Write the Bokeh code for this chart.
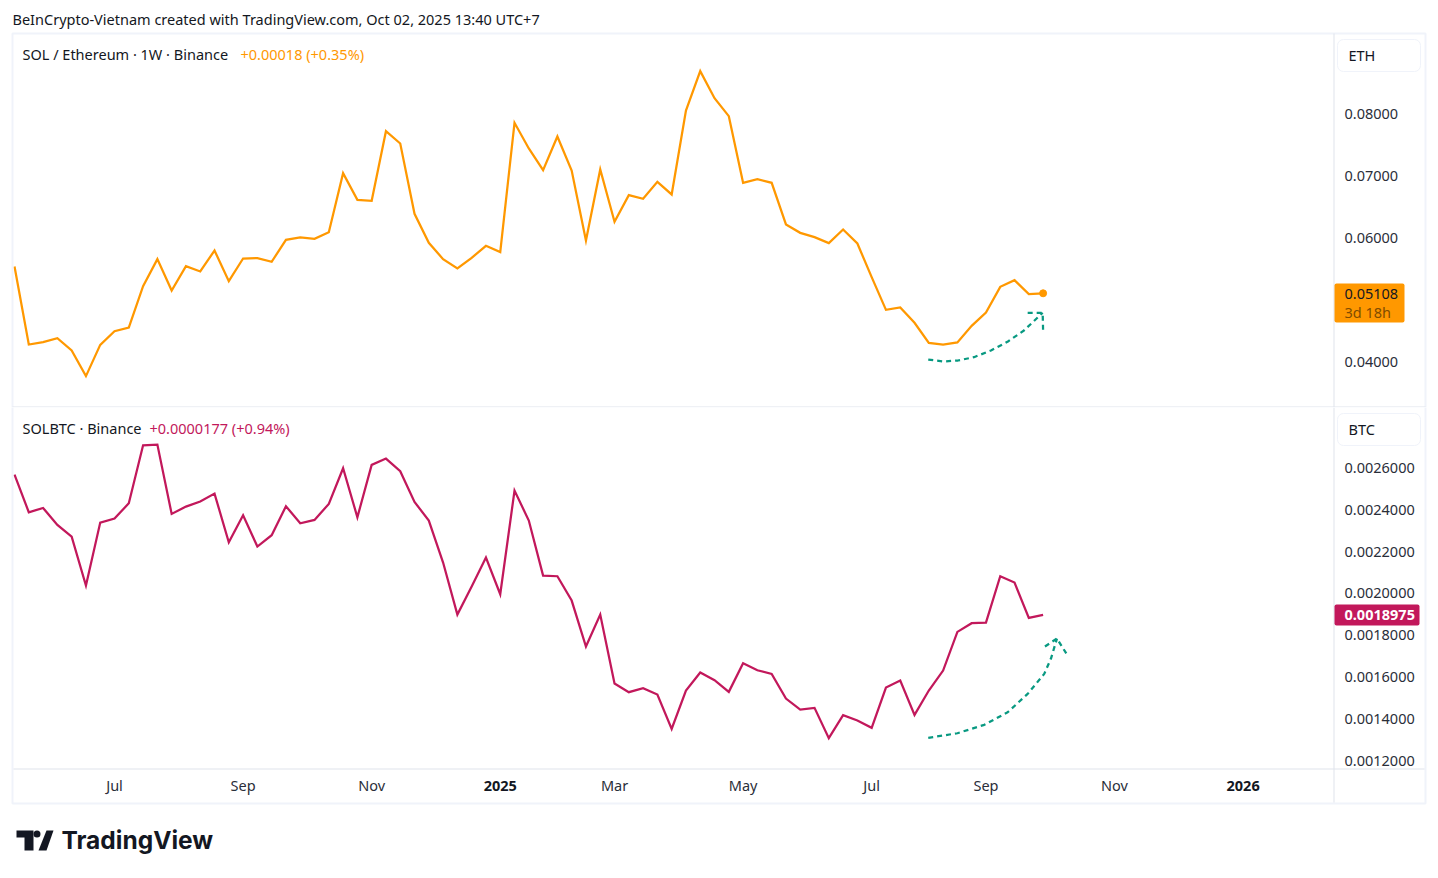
from datetime import datetime

import pandas as pd
from bokeh.embed import file_html
from bokeh.layouts import column
from bokeh.models import BoxAnnotation, FixedTicker, Label, PolyAnnotation, Range1d
from bokeh.plotting import figure
from bokeh.resources import INLINE

weeks = pd.date_range("2024-05-13", periods=73, freq="7D")

sol_eth = [
    0.05540, 0.04282, 0.04320, 0.04384, 0.04186, 0.03772, 0.04277, 0.04497, 0.04556, 0.05223,
    0.05659, 0.05153, 0.05546, 0.05460, 0.05798, 0.05304, 0.05669, 0.05675, 0.05616, 0.05970,
    0.06008, 0.05987, 0.06094, 0.07046, 0.06616, 0.06600, 0.07723, 0.07524, 0.06390, 0.05922,
    0.05659, 0.05508, 0.05680, 0.05874, 0.05772, 0.07858, 0.07444, 0.07094, 0.07637, 0.07089,
    0.05960, 0.07105, 0.06261, 0.06691, 0.06632, 0.06906, 0.06702, 0.08056, 0.08691, 0.08255,
    0.07965, 0.06890, 0.06949, 0.06890, 0.06218, 0.06083, 0.06013, 0.05917, 0.06137, 0.05911,
    0.05368, 0.04841, 0.04879, 0.04632, 0.04309, 0.04282, 0.04315, 0.04583, 0.04798, 0.05212,
    0.05320, 0.05094, 0.05108,
]
sol_btc = [
    0.0025684, 0.0023882, 0.0024089, 0.0023276, 0.0022718, 0.0020373, 0.0023388, 0.0023579,
    0.0024313, 0.0027088, 0.0027120, 0.0023802, 0.0024153, 0.0024392, 0.0024775, 0.0022447,
    0.0023738, 0.0022239, 0.0022782, 0.0024169, 0.0023356, 0.0023515, 0.0024281, 0.0025987,
    0.0023643, 0.0026147, 0.0026450, 0.0025844, 0.0024376, 0.0023483, 0.0021474, 0.0018986,
    0.0020325, 0.0021713, 0.0019959, 0.0024919, 0.0023483, 0.0020852, 0.0020820, 0.0019656,
    0.0017455, 0.0018986, 0.0015684, 0.0015270, 0.0015461, 0.0015158, 0.0013515, 0.0015349,
    0.0016211, 0.0015844, 0.0015286, 0.0016657, 0.0016322, 0.0016147, 0.0014967, 0.0014440,
    0.0014520, 0.0013069, 0.0014169, 0.0013914, 0.0013563, 0.0015493, 0.0015828, 0.0014185,
    0.0015349, 0.0016306, 0.0018156, 0.0018571, 0.0018603, 0.0020820, 0.0020517, 0.0018826,
    0.0018975,
]

# hand drawn arrows, x in weeks after the first bar
eth_arrow_wk = [63.96, 65.06, 66.04, 67.16, 68.35, 69.54, 70.66, 71.97]
eth_arrow_val = [0.04040, 0.04008, 0.04024, 0.04077, 0.04185, 0.04331, 0.04508, 0.04794]
eth_head_wk = [70.92, 71.97, 72.0]
eth_head_val = [0.04794, 0.04794, 0.04497]
btc_arrow_wk = [63.96, 66.0, 67.88, 69.52, 70.92, 72.08, 72.55, 72.97]
btc_arrow_val = [0.0013086, 0.0013306, 0.0013708, 0.0014311, 0.0015191, 0.0016148, 0.0016880, 0.0017837]
btc_head_wk = [72.13, 72.97, 73.67]
btc_head_val = [0.0017455, 0.0017837, 0.0017072]

month_dates = ["2024-07-01", "2024-09-02", "2024-11-04", "2025-03-03", "2025-05-05", "2025-07-07", "2025-09-01", "2025-11-03"]
month_names = ["Jul", "Sep", "Nov", "Mar", "May", "Jul", "Sep", "Nov"]
year_dates = ["2025-01-06", "2026-01-05"]
year_names = ["2025", "2026"]
eth_ticks = [0.04, 0.06, 0.07, 0.08]
btc_ticks = [0.0012, 0.0014, 0.0016, 0.0018, 0.0020, 0.0022, 0.0024, 0.0026]

ORANGE = "#ff9800"
MAGENTA = "#c2185b"
TEAL = "#089981"
TEXT = "#131722"
AXIS_TEXT = "#2a2e39"
RULE = "#e0e3eb"
EDGE = "#f0f3fa"
FONT = "Noto Sans"
SIZE = "14.5px"
DASH = [5, 4]

# the frame fills each canvas, axes sit at fixed locations inside it
AXIS_DATE = datetime(2026, 2, 18, 7)
x_range = Range1d(datetime(2024, 5, 6, 3, 10), datetime(2026, 4, 10, 17, 48))


def at(wk):
    return [weeks[0] + pd.Timedelta(days=7 * w) for w in wk]


def ms(day):
    return pd.Timestamp(day).timestamp() * 1000


def text(p, top, x, y, s, color=TEXT, size=SIZE, style="normal", font=FONT):
    p.add_layout(Label(x=x - 1, y=y - top - 1, x_units="canvas", y_units="canvas", text=s, text_color=color,
                       text_font=font, text_font_size=size, text_font_style=style,
                       text_baseline="middle"))


def box(p, top, x0, y0, x1, y1, fill=None, line=None, width=1, radius=0):
    p.add_layout(BoxAnnotation(left=x0, right=x1, top=y0 - top, bottom=y1 - top,
                               left_units="canvas", right_units="canvas", top_units="canvas", bottom_units="canvas",
                               fill_color=fill, fill_alpha=1 if fill else 0, line_color=line, line_width=width,
                               line_alpha=1 if line else 0, border_radius=radius, editable=False))


# upper pane
p1 = figure(width=1438, height=407, x_range=x_range, y_range=Range1d(0.03266, 0.098304), x_axis_type="datetime",
            x_axis_location=None, y_axis_location="right", toolbar_location=None, output_backend="svg",
            min_border=0)
p1.line(weeks, sol_eth, line_color=ORANGE, line_width=2.25, line_join="miter")
p1.scatter(weeks[-1:], sol_eth[-1:], size=7, fill_color=ORANGE, line_color=ORANGE)
p1.line(at(eth_arrow_wk), eth_arrow_val, line_color=TEAL, line_width=2.25, line_dash=DASH)
p1.line(at(eth_head_wk), eth_head_val, line_color=TEAL, line_width=2.25, line_dash=DASH)

# lower pane
p2 = figure(width=1438, height=471, x_range=x_range, y_range=Range1d(0.00063541, 0.0028895), x_axis_type="datetime",
            y_axis_location="right", toolbar_location=None, output_backend="svg",
            min_border=0)
p2.line(weeks, sol_btc, line_color=MAGENTA, line_width=2.25, line_join="miter")
p2.line(at(btc_arrow_wk), btc_arrow_val, line_color=TEAL, line_width=2.25, line_dash=DASH)
p2.line(at(btc_head_wk), btc_head_val, line_color=TEAL, line_width=2.25, line_dash=DASH)

for p, ticks, digits in [(p1, eth_ticks, 5), (p2, btc_ticks, 7)]:
    p.grid.visible = False
    p.outline_line_color = None
    p.background_fill_color = "white"
    p.yaxis.fixed_location = ms(AXIS_DATE)
    p.yaxis.ticker = FixedTicker(ticks=ticks)
    p.yaxis.major_label_overrides = {t: f"{t:.{digits}f}" for t in ticks}
    p.yaxis.major_tick_line_color = None
    p.yaxis.minor_tick_line_color = None
    p.yaxis.axis_line_color = None
    p.yaxis.major_label_text_color = AXIS_TEXT
    p.yaxis.major_label_text_font = FONT
    p.yaxis.major_label_text_font_size = SIZE
    p.yaxis.major_label_standoff = 5

p2.xaxis.fixed_location = 0.00116172
p2.xaxis.ticker = FixedTicker(ticks=[ms(d) for d in month_dates])
p2.xaxis.major_label_overrides = {ms(d): n for d, n in zip(month_dates, month_names)}
p2.xaxis.major_tick_line_color = None
p2.xaxis.minor_tick_line_color = None
p2.xaxis.axis_line_color = None
p2.xaxis.major_label_text_color = AXIS_TEXT
p2.xaxis.major_label_text_font = FONT
p2.xaxis.major_label_text_font_size = SIZE
p2.xaxis.major_label_standoff = 0

for d, n in zip(year_dates, year_names):
    p2.add_layout(Label(x=ms(d), y=785 - 407, x_units="data", y_units="canvas", text=n, text_color=TEXT,
                        text_font=FONT, text_font_size=SIZE, text_font_style="bold",
                        text_align="center", text_baseline="middle"))

# frame rules
box(p1, 0, 12, 33, 1425, 408, line=EDGE, width=2)
box(p1, 0, 1333, 33, 1334, 407, fill=RULE)
box(p1, 0, 12, 406, 1425, 407, fill=RULE)
box(p2, 407, 12, 406, 1425, 803, line=EDGE, width=2)
box(p2, 407, 1333, 407, 1334, 802, fill=RULE)
box(p2, 407, 13, 768, 1424, 769, fill=RULE)

# scale buttons
box(p1, 0, 1337, 39, 1420, 71, fill="white", line=EDGE, radius=6)
text(p1, 0, 1349, 55, "ETH")
box(p2, 407, 1337, 413, 1420, 445, fill="white", line=EDGE, radius=6)
text(p2, 407, 1349, 429, "BTC")

# headers
text(p1, 0, 13, 19, "BeInCrypto-Vietnam created with TradingView.com, Oct 02, 2025 13:40 UTC+7")
text(p1, 0, 23, 54, "SOL / Ethereum · 1W · Binance")
text(p1, 0, 241, 54, "+0.00018 (+0.35%)", color=ORANGE)
text(p2, 407, 23, 428, "SOLBTC · Binance")
text(p2, 407, 150, 428, "+0.0000177 (+0.94%)", color=MAGENTA)

# last price tags
box(p1, 0, 1334, 283, 1404, 322, fill=ORANGE, radius=2)
text(p1, 0, 1345, 294, "0.05108")
text(p1, 0, 1345, 312, "3d 18h", color="#7f4c00")
box(p2, 407, 1334, 604, 1419, 625, fill=MAGENTA, radius=2)
text(p2, 407, 1345, 615, "0.0018975", color="white", style="bold")

# logo
p2.add_layout(PolyAnnotation(xs=[16, 33, 33, 24, 24, 16], ys=[423, 423, 443, 443, 430, 430], xs_units="canvas", ys_units="canvas",
                             fill_color="#131722", fill_alpha=1, line_color=None, editable=False))
p2.add_layout(PolyAnnotation(xs=[46, 53, 46, 38], ys=[423, 423, 443, 443], xs_units="canvas", ys_units="canvas",
                             fill_color="#131722", fill_alpha=1, line_color=None, editable=False))
box(p2, 407, 33, 830, 40, 837, fill="#131722", radius=4)
text(p2, 407, 62, 840, "TradingView", color="#131722", size="24.5px", style="bold", font="Inter")

open("out.html", "w").write(file_html(column(p1, p2), INLINE))
